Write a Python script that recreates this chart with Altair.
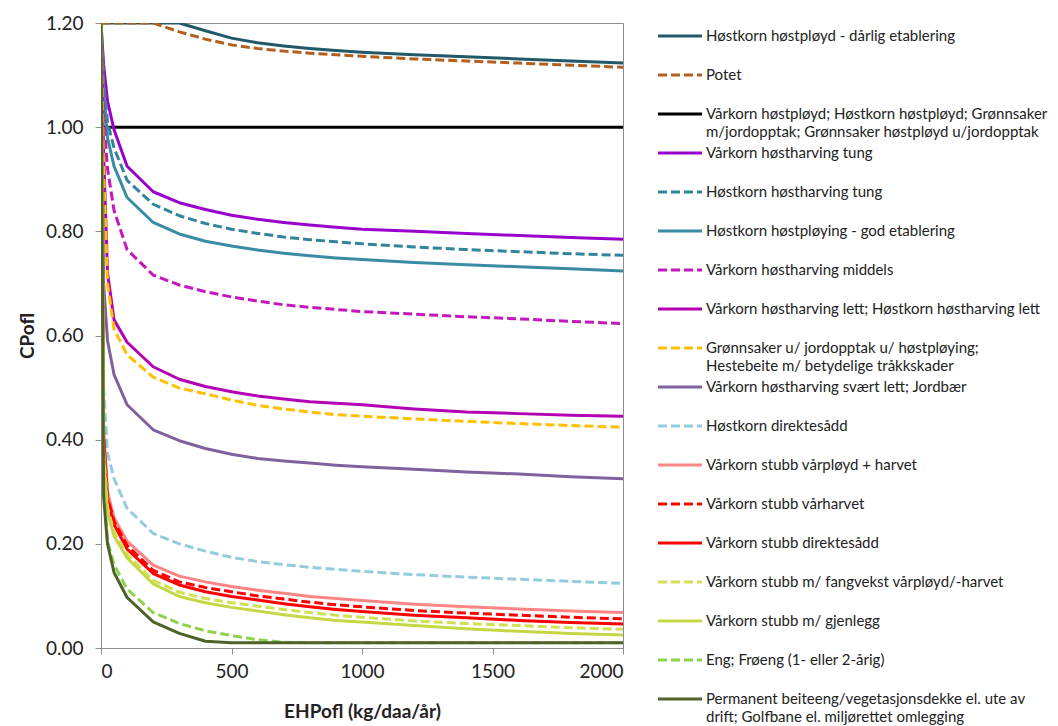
import altair as alt
import pandas as pd

# EHPofl (kg/daa/år) sampling points
ehp = [0, 10, 25, 50, 100, 200, 300, 400, 500, 600, 700, 800, 900, 1000,
       1200, 1400, 1600, 1800, 2000]

# CPofl per driftsform, one value per EHPofl point
hk_hostployd_darlig = [1.2, 1.2, 1.2, 1.2, 1.2, 1.2, 1.2, 1.185, 1.171, 1.162, 1.156,
                       1.151, 1.147, 1.144, 1.139, 1.135, 1.131, 1.127, 1.123]
potet = [1.2, 1.2, 1.2, 1.2, 1.2, 1.2, 1.183, 1.169, 1.158, 1.151, 1.146,
         1.142, 1.139, 1.136, 1.131, 1.127, 1.123, 1.119, 1.115]
hostployd = [1.0] * 19
vk_hostharv_tung = [1.2, 1.12, 1.05, 0.995, 0.925, 0.876, 0.855, 0.842, 0.831, 0.823,
                    0.817, 0.812, 0.808, 0.804, 0.8, 0.796, 0.792, 0.788, 0.785]
hk_hostharv_tung = [1.2, 1.09, 1.01, 0.96, 0.898, 0.852, 0.83, 0.815, 0.804, 0.796,
                    0.789, 0.784, 0.78, 0.776, 0.77, 0.765, 0.761, 0.757, 0.754]
hk_hostploying_god = [1.2, 1.07, 0.98, 0.925, 0.865, 0.817, 0.795, 0.781, 0.772, 0.764,
                      0.758, 0.753, 0.749, 0.746, 0.74, 0.736, 0.732, 0.728, 0.724]
vk_hostharv_middels = [1.2, 1.02, 0.92, 0.84, 0.765, 0.716, 0.697, 0.684, 0.674, 0.666,
                       0.659, 0.654, 0.65, 0.646, 0.641, 0.636, 0.632, 0.627, 0.623]
vk_hostharv_lett = [1.2, 0.95, 0.72, 0.63, 0.587, 0.54, 0.516, 0.502, 0.492, 0.484,
                    0.478, 0.473, 0.47, 0.467, 0.459, 0.453, 0.45, 0.447, 0.445]
gronnsaker_u_jordopptak = [1.2, 0.92, 0.70, 0.612, 0.563, 0.52, 0.499, 0.488, 0.476, 0.466,
                           0.459, 0.453, 0.448, 0.445, 0.44, 0.435, 0.431, 0.427, 0.424]
vk_hostharv_svaert_lett = [1.2, 0.70, 0.59, 0.525, 0.467, 0.419, 0.398, 0.383, 0.372, 0.364,
                           0.359, 0.355, 0.351, 0.348, 0.343, 0.338, 0.334, 0.329, 0.325]
hk_direktesadd = [1.2, 0.50, 0.375, 0.325, 0.268, 0.22, 0.2, 0.186, 0.174, 0.166,
                  0.16, 0.155, 0.151, 0.147, 0.141, 0.136, 0.132, 0.128, 0.124]
vs_varployd_harvet = [1.2, 0.42, 0.30, 0.25, 0.205, 0.159, 0.138, 0.127, 0.118, 0.111,
                      0.105, 0.099, 0.095, 0.091, 0.084, 0.079, 0.075, 0.071, 0.068]
vs_varharvet = [1.2, 0.41, 0.29, 0.243, 0.197, 0.149, 0.127, 0.116, 0.108, 0.1,
                0.094, 0.088, 0.083, 0.079, 0.072, 0.067, 0.063, 0.059, 0.056]
vs_direktesadd = [1.2, 0.40, 0.285, 0.237, 0.19, 0.143, 0.121, 0.108, 0.099, 0.092,
                  0.085, 0.079, 0.074, 0.07, 0.063, 0.058, 0.053, 0.049, 0.046]
vs_fangvekst = [1.2, 0.38, 0.27, 0.222, 0.18, 0.13, 0.107, 0.095, 0.087, 0.08,
                0.074, 0.068, 0.063, 0.059, 0.052, 0.047, 0.043, 0.039, 0.036]
vs_gjenlegg = [1.2, 0.37, 0.26, 0.215, 0.173, 0.123, 0.099, 0.087, 0.078, 0.071,
               0.064, 0.058, 0.053, 0.05, 0.043, 0.037, 0.032, 0.028, 0.025]
eng_froeng = [1.2, 0.31, 0.205, 0.16, 0.113, 0.068, 0.047, 0.033, 0.024, 0.016,
              0.011, 0.01, 0.01, 0.01, 0.01, 0.01, 0.01, 0.01, 0.01]
permanent_eng = [1.2, 0.29, 0.2, 0.145, 0.097, 0.05, 0.028, 0.013, 0.01, 0.01,
                 0.01, 0.01, 0.01, 0.01, 0.01, 0.01, 0.01, 0.01, 0.01]

labels = [
    "Høstkorn høstpløyd - dårlig etablering",
    "Potet",
    "Vårkorn høstpløyd; Høstkorn høstpløyd; Grønnsaker\nm/jordopptak; Grønnsaker høstpløyd u/jordopptak",
    "Vårkorn høstharving tung",
    "Høstkorn høstharving tung",
    "Høstkorn høstpløying - god etablering",
    "Vårkorn høstharving middels",
    "Vårkorn høstharving lett; Høstkorn høstharving lett",
    "Grønnsaker u/ jordopptak u/ høstpløying;\nHestebeite m/ betydelige tråkkskader",
    "Vårkorn høstharving svært lett; Jordbær",
    "Høstkorn direktesådd",
    "Vårkorn stubb vårpløyd + harvet",
    "Vårkorn stubb vårharvet",
    "Vårkorn stubb direktesådd",
    "Vårkorn stubb m/ fangvekst vårpløyd/-harvet",
    "Vårkorn stubb m/ gjenlegg",
    "Eng; Frøeng (1- eller 2-årig)",
    "Permanent beiteeng/vegetasjonsdekke el. ute av\ndrift; Golfbane el. miljørettet omlegging",
]
series = [hk_hostployd_darlig, potet, hostployd, vk_hostharv_tung, hk_hostharv_tung,
          hk_hostploying_god, vk_hostharv_middels, vk_hostharv_lett,
          gronnsaker_u_jordopptak, vk_hostharv_svaert_lett, hk_direktesadd,
          vs_varployd_harvet, vs_varharvet, vs_direktesadd, vs_fangvekst,
          vs_gjenlegg, eng_froeng, permanent_eng]

# Line styles (colour, dashed?)
colors = ["#215968", "#B45F1E", "#000000", "#9A00CC", "#31849B", "#3A8CA3",
          "#C418BE", "#B400B4", "#FFC000", "#7F619E", "#93CDDD", "#FF8585",
          "#FF0000", "#FF0000", "#D3DF55", "#C6D745", "#92D050", "#4F6228"]
dashed = [False, True, False, False, True, False, True, False, True, False,
          True, False, True, False, True, False, True, False]
DASH = [9, 4]
SOLID = [1, 0]

FONT = "Lato"
TEXT = "#222222"

names = [f"s{i:02d}" for i in range(len(labels))]
rows = []
for name, vals in zip(names, series):
    for x, v in zip(ehp, vals):
        rows.append({"serie": name, "EHPofl": x, "CPofl": v})
df = pd.DataFrame(rows)

x_scale = alt.Scale(domain=[0, 2000], nice=False, zero=False)
y_scale = alt.Scale(domain=[0, 1.2], nice=False)

x_axis = alt.Axis(values=[0, 500, 1000, 1500, 2000], title="EHPofl (kg/daa/år)",
                  format="d", labelPadding=8, titlePadding=21)
y_axis = alt.Axis(values=[0, 0.2, 0.4, 0.6, 0.8, 1.0, 1.2], format=".2f",
                  title="CPofl", labelPadding=12, titlePadding=8)

layers = []
for name, col, is_dash in zip(names, colors, dashed):
    mark_kw = dict(color=col, strokeWidth=3, clip=True, strokeCap="butt",
                   strokeJoin="round")
    if is_dash:
        mark_kw["strokeDash"] = DASH
    layers.append(
        alt.Chart(df[df["serie"] == name]).mark_line(**mark_kw).encode(
            x=alt.X("EHPofl:Q", scale=x_scale, axis=x_axis),
            y=alt.Y("CPofl:Q", scale=y_scale, axis=y_axis),
        )
    )

plot = alt.layer(*layers).properties(width=522, height=625)

# Legend drawn as its own small chart: one row per series
leg_df = pd.DataFrame({
    "idx": list(range(len(labels))),
    "serie": names,
    "label": labels,
})
leg_y = alt.Y("idx:Q", scale=alt.Scale(domain=[0, len(labels) - 1], range=[13, 676]),
              axis=None)
leg_rules = alt.Chart(leg_df).mark_rule(strokeWidth=3, strokeCap="butt").encode(
    x=alt.value(3), x2=alt.value(47), y=leg_y,
    color=alt.Color("serie:N", scale=alt.Scale(domain=names, range=colors), legend=None),
    strokeDash=alt.StrokeDash("serie:N",
                              scale=alt.Scale(domain=names,
                                              range=[DASH if d else SOLID for d in dashed]),
                              legend=None),
)
leg_text = alt.Chart(leg_df).mark_text(
    align="left", baseline="top", dy=-7.5, lineBreak="\n", lineHeight=18.5,
    font=FONT, fontSize=15, color=TEXT,
).encode(x=alt.value(51), y=leg_y, text="label:N")

legend = alt.layer(leg_rules, leg_text).properties(
    width=400, height=700, view=alt.ViewBackground(stroke="transparent"))

chart = alt.hconcat(plot, legend, spacing=32, bounds="flush").properties(
    padding={"left": 17, "top": 13, "right": 0, "bottom": 0},
    background="white",
).configure_view(
    stroke="#8C8C8C", strokeWidth=1,
).configure_axis(
    grid=False, domainColor="#8C8C8C", tickColor="#8C8C8C", tickSize=6,
    labelFont=FONT, labelFontSize=19, labelColor=TEXT,
    titleFont=FONT, titleFontSize=19, titleFontWeight="bold", titleColor=TEXT,
)

chart.save("out.html", embed_options={"renderer": "svg", "actions": False})
